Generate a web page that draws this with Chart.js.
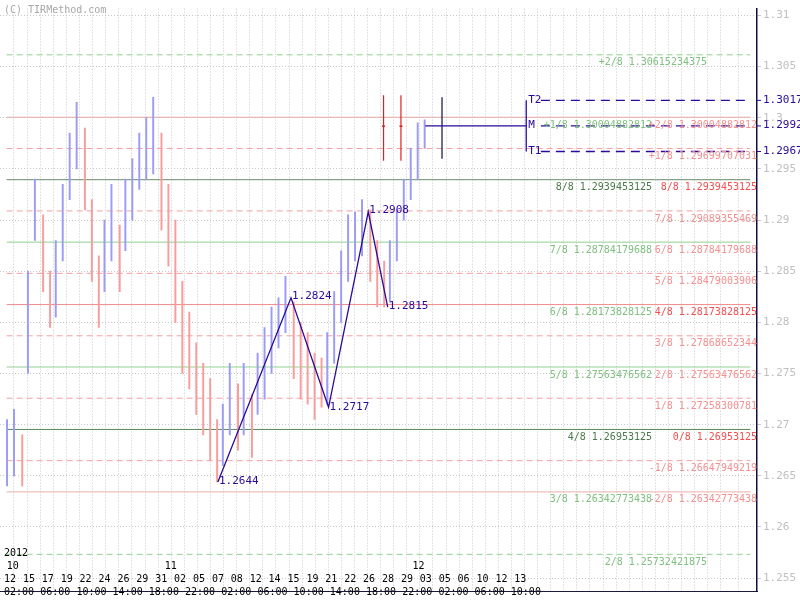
<!DOCTYPE html>
<html>
<head>
<meta charset="utf-8">
<script src="https://cdn.jsdelivr.net/npm/chart.js@4"></script>
<style>
  html, body { margin: 0; padding: 0; background: #fff; }
  #wrap { width: 800px; height: 600px; }
</style>
</head>
<body>
<div id="wrap"><canvas id="chart"></canvas></div>
<script>
// price bars (one per time slot)
var closes = [1.2660,1.2690,1.2655,1.2800,1.2920,1.2870,1.2810,1.2840,1.2900,1.2960,1.2990,1.2950,1.2880,1.2810,1.2870,1.2900,1.2860,1.2910,1.2930,1.2960,1.2970,1.2985,1.2940,1.2900,1.2850,1.2790,1.2770,1.2740,1.2720,1.2700,1.2660,1.2680,1.2730,1.2700,1.2720,1.2690,1.2740,1.2760,1.2790,1.2810,1.2820,1.2780,1.2760,1.2750,1.2730,1.2725,1.2750,1.2790,1.2840,1.2870,1.2895,1.2900,1.2880,1.2840,1.2825,1.2850,1.2890,1.2920,1.2945,1.2975,1.2992]
var highs = [1.2705,1.2715,1.2690,1.2850,1.2940,1.2905,1.2850,1.2880,1.2935,1.2985,1.3015,1.2990,1.2920,1.2865,1.2900,1.2935,1.2895,1.2940,1.2960,1.2985,1.3000,1.3020,1.2985,1.2935,1.2900,1.2840,1.2810,1.2780,1.2760,1.2745,1.2705,1.2720,1.2760,1.2740,1.2760,1.2730,1.2770,1.2795,1.2815,1.2824,1.2845,1.2820,1.2800,1.2790,1.2770,1.2765,1.2790,1.2830,1.2870,1.2905,1.2908,1.2920,1.2910,1.2880,1.2860,1.2880,1.2910,1.2940,1.2970,1.2995,1.2998]
var lows = [1.2640,1.2650,1.2640,1.2750,1.2880,1.2830,1.2795,1.2805,1.2860,1.2920,1.2950,1.2910,1.2840,1.2795,1.2830,1.2860,1.2830,1.2870,1.2900,1.2930,1.2940,1.2945,1.2890,1.2855,1.2800,1.2750,1.2735,1.2710,1.2690,1.2665,1.2644,1.2660,1.2690,1.2675,1.2690,1.2668,1.2710,1.2725,1.2750,1.2775,1.2790,1.2745,1.2725,1.2720,1.2705,1.2717,1.2720,1.2760,1.2800,1.2840,1.2860,1.2865,1.2840,1.2815,1.2815,1.2820,1.2860,1.2900,1.2920,1.2940,1.2970]

// zigzag swing points (slot, price)
var zzSlots = [30.2, 40.7, 46.1, 51.8, 54.6]
var zzPrices = [1.2644, 1.2824, 1.2717, 1.2908, 1.2815]

// Murrey math levels
var levelValues = [1.30615234375, 1.30004882812, 1.29699707031, 1.2939453125, 1.29089355469, 1.28784179688, 1.28479003906, 1.28173828125, 1.27868652344, 1.27563476562, 1.27258300781, 1.26953125, 1.26647949219, 1.26342773438, 1.25732421875]
var levelColors = ['#90d090','#e0a8a8','#f4a0a0','#6a8c6a','#f4a0a0','#90d090','#f4a0a0','#f08a8a','#f4a0a0','#90d090','#f4a0a0','#5a8a5a','#f4a0a0','#e8b0a8','#90d090']
var levelDashed = [true,false,true,false,true,false,true,false,true,false,true,false,true,false,true]
var greenLabels = ['+2/8','+1/8','','8/8','','7/8','','6/8','','5/8','','4/8','','3/8','2/8']
var redLabels = ['','+2/8','+1/8','8/8','7/8','6/8','5/8','4/8','3/8','2/8','1/8','0/8','-1/8','-2/8','']

// targets
var targetNames = ['T2', 'M', 'T1']
var targetValues = [1.3017, 1.2992, 1.2967]

// bottom time axis texts
var dateLabels = ['12','15','17','19','22','24','26','29','31','02','05','07','08','12','14','15','19','21','22','26','28','29','03','05','06','10','12','13']
var hourLabels = ['02:00','06:00','10:00','14:00','18:00','22:00','02:00','06:00','10:00','14:00','18:00','22:00','02:00','06:00','10:00']
var monthLabels = [['10', 0], ['11', 22.7], ['12', 58.3]]

var X_MIN = -0.15, X_MAX = 106.7
var mono = '"DejaVu Sans Mono", monospace'

function seg(x0, y0, x1, y1) { return [{x: x0, y: y0}, {x: x1, y: y1}] }

var datasets = []
var upBars = [], downBars = []
for (var i = 0; i < closes.length; i++) {
    var bar = {x: i, y: [lows[i], highs[i]]}
    if (i === 0 || closes[i] >= closes[i - 1]) upBars.push(bar); else downBars.push(bar)
}
datasets.push({type: 'bar', data: upBars, backgroundColor: '#9c9cf6', barThickness: 1.3, order: 3})
datasets.push({type: 'bar', data: downBars, backgroundColor: '#f89c9c', barThickness: 1.3, order: 3})

for (var k = 0; k < levelValues.length; k++) {
    datasets.push({
        type: 'line', data: seg(X_MIN, levelValues[k], X_MAX, levelValues[k]),
        borderColor: levelColors[k], borderWidth: 1, borderDash: levelDashed[k] ? [6, 4] : [],
        pointRadius: 0, order: 5
    })
}

var navy = '#2a0a9a'
datasets.push({type: 'line', data: zzSlots.map(function (s, j) { return {x: s, y: zzPrices[j]} }),
    borderColor: navy, borderWidth: 1.3, pointRadius: 0, order: 1})
// target structure
datasets.push({type: 'line', data: seg(60, targetValues[1], 74.5, targetValues[1]), borderColor: navy, borderWidth: 1.3, pointRadius: 0, order: 1})
datasets.push({type: 'line', data: seg(74.5, targetValues[0], 74.5, targetValues[2]), borderColor: navy, borderWidth: 1.3, pointRadius: 0, order: 1})
for (var t = 0; t < 3; t++) {
    datasets.push({type: 'line', data: seg(76.6, targetValues[t], X_MAX, targetValues[t]), borderColor: navy, borderWidth: 1.3, borderDash: [9, 6], pointRadius: 0, order: 1})
}
datasets.push({type: 'line', data: seg(62.4, 1.3020, 62.4, 1.2960), borderColor: '#101040', borderWidth: 1.2, pointRadius: 0, order: 1})
datasets.push({type: 'line', data: seg(54.0, 1.3022, 54.0, 1.2958), borderColor: '#e02020', borderWidth: 1.2, pointRadius: 0, order: 1})
datasets.push({type: 'line', data: seg(56.5, 1.3022, 56.5, 1.2958), borderColor: '#e02020', borderWidth: 1.2, pointRadius: 0, order: 1})

var textPlugin = {
    id: 'texts',
    afterDatasetsDraw: function (chart) {
        var c = chart.ctx, xs = chart.scales.x, ys = chart.scales.y
        c.save()
        c.font = '10px ' + mono
        c.textBaseline = 'top'
        // level labels
        for (var k = 0; k < levelValues.length; k++) {
            var yy = ys.getPixelForValue(levelValues[k]) + 3
            var num = levelValues[k].toString()
            var strong = (redLabels[k] === '8/8' || redLabels[k] === '4/8' || redLabels[k] === '0/8')
            c.textAlign = 'right'
            if (redLabels[k]) {
                c.fillStyle = strong ? '#f05050' : '#f49090'
                c.fillText(redLabels[k] + ' ' + num, xs.right, yy)
            }
            if (greenLabels[k]) {
                c.fillStyle = greenLabels[k] === '8/8' || greenLabels[k] === '4/8' ? '#4a7a4a' : '#80c080'
                var gx = (k === 0 || k === 14) ? xs.right - 50 : xs.right - 105
                c.fillText(greenLabels[k] + ' ' + num, gx, yy)
            }
        }
        c.font = '11px ' + mono
        // zigzag values
        c.fillStyle = navy
        c.textAlign = 'left'
        for (var j = 0; j < zzSlots.length; j++) {
            var px = xs.getPixelForValue(zzSlots[j]) + 1
            var py = ys.getPixelForValue(zzPrices[j]) + (j % 2 === 0 ? -6 : -7)
            c.fillText(zzPrices[j].toFixed(4), px, py)
        }
        // target names and axis values
        for (var t = 0; t < 3; t++) {
            var ty = ys.getPixelForValue(targetValues[t])
            c.fillStyle = navy
            c.textAlign = 'left'
            c.fillText(targetNames[t], xs.getPixelForValue(74.5) + 2, ty - 6)
            c.fillText(targetValues[t].toFixed(4), xs.right + 6, ty - 6)
            c.beginPath(); c.moveTo(xs.right, ty); c.lineTo(xs.right + 4, ty); c.strokeStyle = navy; c.stroke()
        }
        // red markers
        c.fillStyle = '#e02020'
        c.fillRect(xs.getPixelForValue(54.0) - 1.5, ys.getPixelForValue(1.2992) - 0.5, 3, 1.5)
        c.fillRect(xs.getPixelForValue(56.5) - 1.5, ys.getPixelForValue(1.2992) - 0.5, 3, 1.5)
        // copyright
        c.font = '10px ' + mono
        c.fillStyle = '#a8a8a8'
        c.fillText('(C) TIRMethod.com', 4, 5)
        // time axis rows
        c.fillStyle = '#000'
        c.fillText('2012', 4, 548)
        monthLabels.forEach(function (m) { c.fillText(m[0], xs.getPixelForValue(m[1]) - 1, 561) })
        dateLabels.forEach(function (d, i) { c.fillText(d, 4 + i * 18.9, 574) })
        hourLabels.forEach(function (h, i) { c.fillText(h, 4 + i * 36.2, 587) })
        c.restore()
    }
}

new Chart(document.getElementById('chart'), {
    data: {datasets: datasets},
    plugins: [textPlugin],
    options: {
        responsive: true,
        maintainAspectRatio: false,
        animation: false,
        layout: {padding: 0},
        plugins: {legend: {display: false}, tooltip: {enabled: false}},
        scales: {
            x: {
                type: 'linear', min: X_MIN, max: X_MAX,
                ticks: {display: false, stepSize: 1.88},
                grid: {color: '#c8c8c8', drawTicks: false},
                border: {display: true, color: '#1a1a40', width: 1, dash: [1, 2]}
            },
            y: {
                position: 'right', min: 1.2537, max: 1.31067,
                afterBuildTicks: function (s) {
                    var arr = []
                    for (var v = 1.255; v <= 1.3101; v += 0.005) arr.push({value: Math.round(v * 1000) / 1000})
                    s.ticks = arr
                },
                afterFit: function (s) { s.width = 43 },
                ticks: {
                    color: '#c0c0c0', font: {family: mono, size: 11}, padding: 2,
                    callback: function (v) { return Number(v.toFixed(3)).toString() }
                },
                grid: {color: '#c8c8c8', tickLength: 4},
                border: {display: true, color: '#101040', width: 1.5, dash: [1, 2]}
            }
        }
    }
})
</script>
</body>
</html>
